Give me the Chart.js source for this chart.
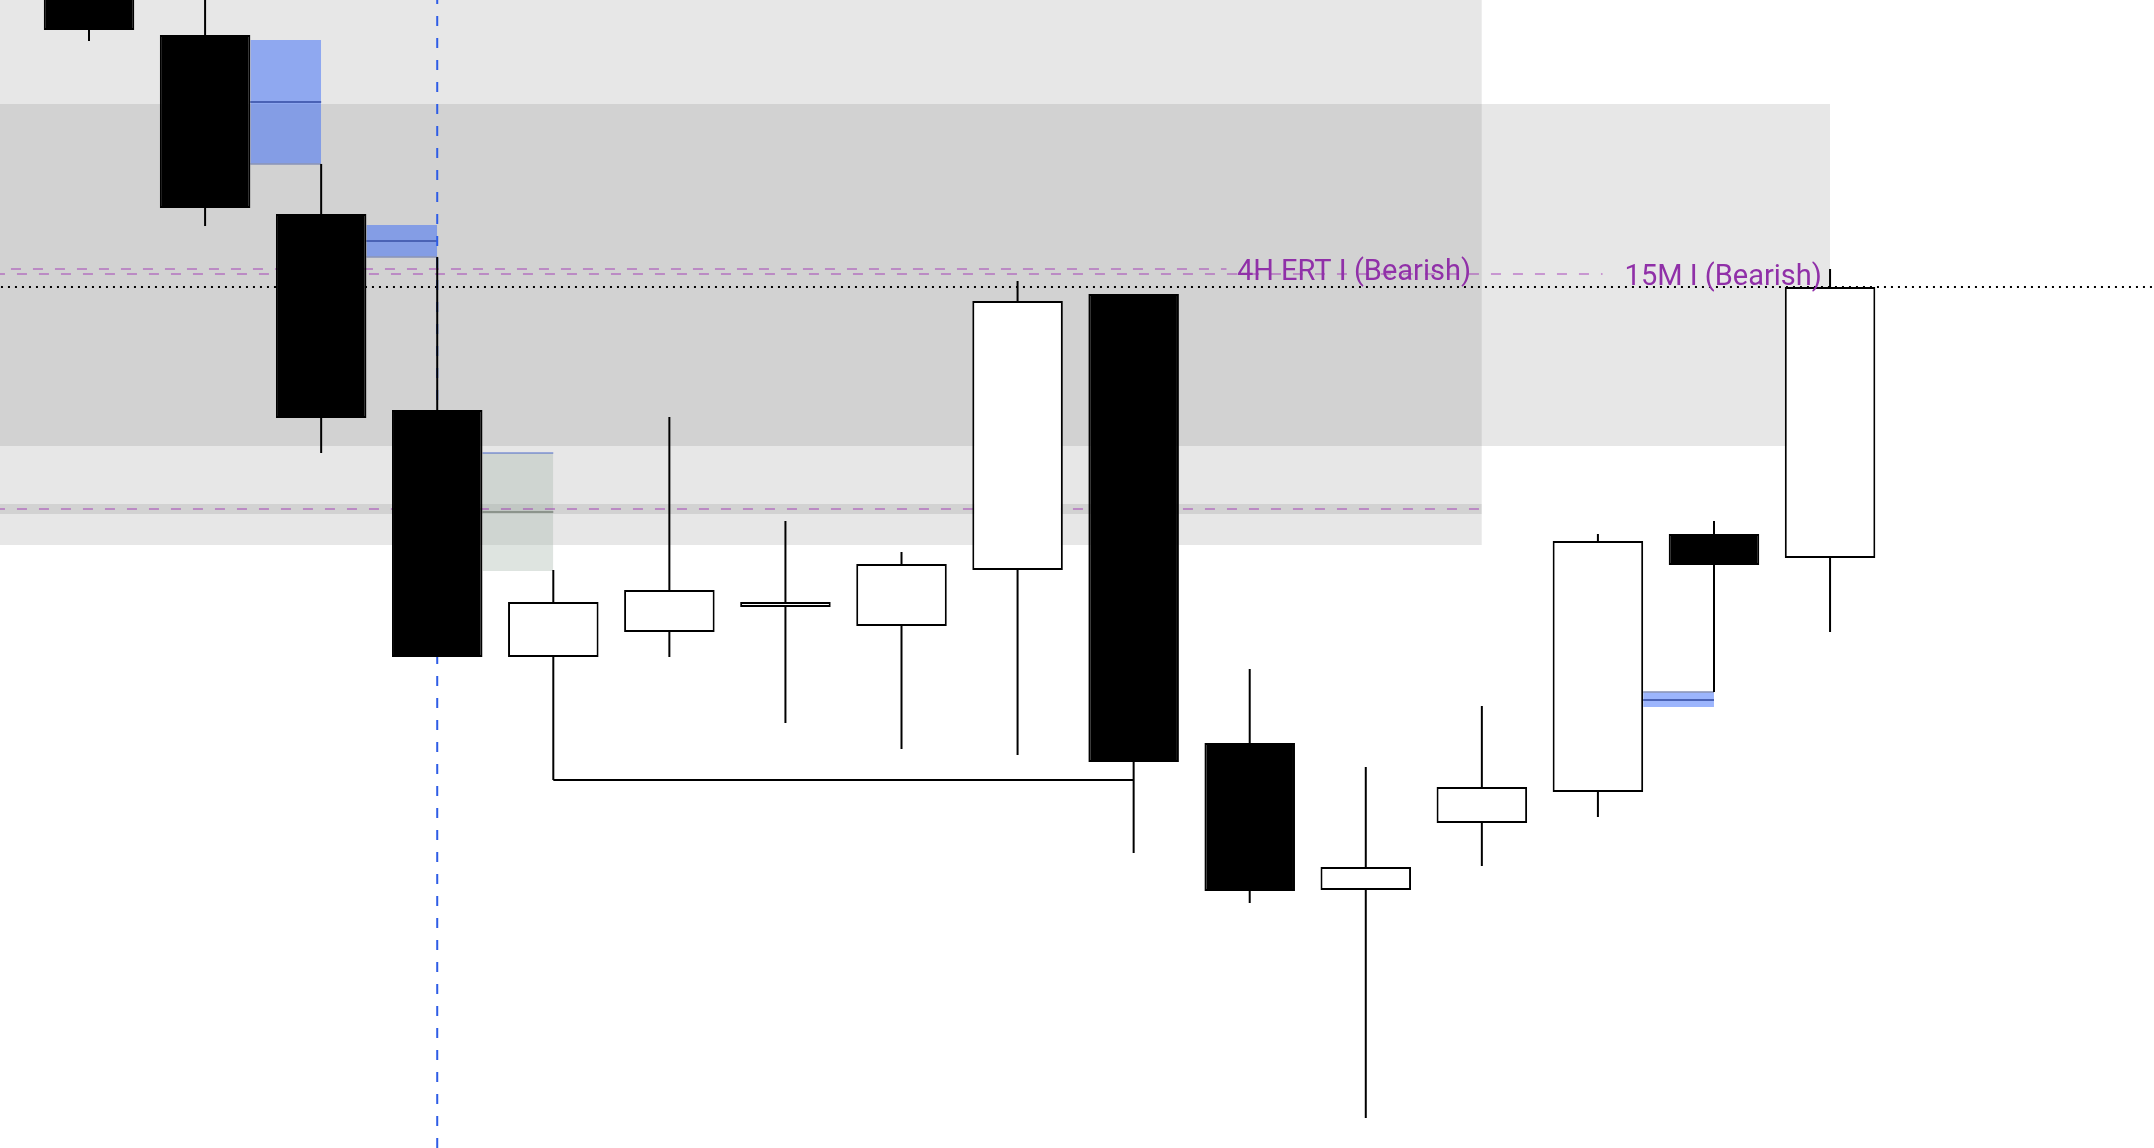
<!DOCTYPE html>
<html>
<head>
<meta charset="utf-8">
<title>Candles</title>
<script src="https://cdn.jsdelivr.net/npm/chart.js@4.4.1/dist/chart.umd.min.js"></script>
<style>
  html, body { margin: 0; padding: 0; background: #fff; overflow: hidden; }
  #wrap { width: 2154px; height: 1148px; position: relative; }
</style>
</head>
<body>
<div id="wrap"><canvas id="chart"></canvas></div>
<script>
// candles, index 0..15 (left to right)
const opens  = [2406.0, 2396.5, 2378.6, 2359.0, 2334.3, 2336.8, 2339.3, 2337.4, 2343.0, 2370.6, 2325.7, 2311.0, 2317.7, 2320.8, 2346.6, 2344.2];
const highs  = [2408.0, 2402.0, 2383.6, 2374.3, 2343.0, 2358.3, 2347.9, 2344.8, 2371.9, 2370.6, 2333.1, 2323.3, 2329.4, 2346.6, 2347.9, 2373.1];
const lows   = [2395.9, 2377.4, 2354.7, 2334.3, 2322.0, 2334.3, 2327.7, 2325.1, 2324.5, 2314.7, 2309.7, 2288.2, 2313.4, 2318.3, 2330.8, 2336.8];
const closes = [2397.0, 2379.2, 2358.2, 2334.3, 2339.8, 2341.0, 2339.8, 2343.6, 2369.9, 2323.8, 2310.9, 2313.3, 2321.3, 2345.9, 2343.5, 2371.3];

// grey zones (start/end in candle index, price range)
const zoneFrom   = [-1, -1, -1];
const zoneTo     = [12, 15, 12];
const zoneTop    = [2405.0, 2389.6, 2349.6];
const zoneBottom = [2345.5, 2355.4, 2348.6];

// imbalance boxes
const fvgFrom   = [1.39, 2.39, 3.39, 13.39];
const fvgTo     = [2, 3, 4, 14];
const fvgTop    = [2396.0, 2377.5, 2354.7, 2330.8];
const fvgBottom = [2383.6, 2374.3, 2342.9, 2329.3];
const fvgMid    = [2389.8, 2375.9, 2348.8, 2330.0];

// levels
const levelPrice = [2373.1, 2372.6, 2349.1];
const levelEnd   = [9.8, 13.04, 12];
const labelText  = ['4H ERT I (Bearish)', '15M I (Bearish)'];
const labelStart = [9.89, 13.23];

const markerCandle = 3;      // vertical dashed line
const sweepFrom = 4, sweepTo = 9;

const PURPLE_LINE = 'rgba(156,39,176,0.42)';
const BLUE_FILL = 'rgba(36,90,250,0.45)';
const fvgStyle = [
  { fill: BLUE_FILL, mid: '#4a62b5', edge: 'bottom', edgeColor: 'rgba(140,150,185,0.8)' },
  { fill: BLUE_FILL, mid: '#4a62b5', edge: 'bottom', edgeColor: 'rgba(140,150,185,0.8)' },
  { fill: 'rgba(160,178,165,0.35)', mid: '#8c948c', edge: 'top', edgeColor: 'rgba(60,90,200,0.45)' },
  { fill: BLUE_FILL, mid: '#4a62b5', edge: 'top', edgeColor: 'rgba(140,150,185,0.8)' }
];

function box(x0, x1, top, bottom, color, order) {
  return {
    type: 'line',
    data: [{ x: x0, y: top }, { x: x1, y: top }],
    fill: { value: bottom },
    backgroundColor: color,
    borderWidth: 0,
    pointRadius: 0,
    order: order
  };
}

function line(points, color, width, dash, order, dashOffset) {
  return {
    type: 'line',
    data: points,
    borderColor: color,
    borderWidth: width,
    borderDash: dash || [],
    borderDashOffset: dashOffset || 0,
    pointRadius: 0,
    fill: false,
    order: order
  };
}

const datasets = [];

zoneFrom.forEach((x0, i) => {
  datasets.push(box(x0, zoneTo[i], zoneTop[i], zoneBottom[i], 'rgba(0,0,0,0.095)', 10));
});

fvgFrom.forEach((x0, i) => {
  const s = fvgStyle[i];
  datasets.push(box(x0, fvgTo[i], fvgTop[i], fvgBottom[i], s.fill, 9));
  datasets.push(line([{ x: x0, y: fvgMid[i] }, { x: fvgTo[i], y: fvgMid[i] }], s.mid, 2, null, 8));
  const ey = s.edge === 'top' ? fvgTop[i] : fvgBottom[i];
  datasets.push(line([{ x: x0, y: ey }, { x: fvgTo[i], y: ey }], s.edgeColor, 2, null, 8));
});

levelPrice.forEach((p, i) => {
  datasets.push(line([{ x: -1, y: p }, { x: levelEnd[i], y: p }], PURPLE_LINE, 2, [10, 12], 7, i === 0 ? 6 : 0));
});

// last price
datasets.push(line([{ x: -1, y: closes[closes.length - 1] }, { x: 18, y: closes[closes.length - 1] }], '#000', 2, [2, 5], 7));

// sweep line from candle 4 low
datasets.push(line([{ x: sweepFrom, y: lows[sweepFrom] }, { x: sweepTo, y: lows[sweepFrom] }], '#000', 2, null, 7));

// vertical marker
datasets.push(line([{ x: markerCandle, y: 2400 }, { x: markerCandle, y: 2285.2 }], '#2e5ce6', 2, [10, 12], 6, 6));

// wicks
datasets.push({
  type: 'bar',
  data: lows.map((l, i) => ({ x: i, y: [l, highs[i]] })),
  backgroundColor: '#000',
  borderWidth: 0,
  barThickness: 2,
  inflateAmount: 0,
  grouped: false,
  order: 2
});

// bodies
datasets.push({
  type: 'bar',
  data: opens.map((o, i) => ({ x: i, y: [o, closes[i]] })),
  backgroundColor: opens.map((o, i) => closes[i] >= o ? '#fff' : '#000'),
  borderColor: '#000',
  borderWidth: 2,
  borderSkipped: false,
  inflateAmount: 0,
  grouped: false,
  barPercentage: 0.78,
  categoryPercentage: 1,
  order: 1
});

const levelLabels = {
  id: 'levelLabels',
  afterDatasetsDraw(chart) {
    const { ctx, scales: { x, y } } = chart;
    ctx.save();
    ctx.font = '29px Roboto';
    ctx.fillStyle = '#9030a8';
    ctx.textBaseline = 'alphabetic';
    labelText.forEach((t, i) => {
      ctx.fillText(t, x.getPixelForValue(labelStart[i]), y.getPixelForValue(levelPrice[i]) + 11);
    });
    ctx.restore();
  }
};

new Chart(document.getElementById('chart'), {
  type: 'bar',
  data: { datasets: datasets },
  options: {
    responsive: true,
    maintainAspectRatio: false,
    animation: false,
    layout: { padding: 0 },
    plugins: {
      legend: { display: false },
      tooltip: { enabled: false }
    },
    scales: {
      x: {
        type: 'linear',
        display: false,
        offset: false,
        min: -0.767,
        max: 17.791,
        ticks: { stepSize: 1, includeBounds: false },
        grid: { display: false }
      },
      y: {
        type: 'linear',
        display: false,
        beginAtZero: false,
        min: 2285.2,
        max: 2400,
        grid: { display: false }
      }
    }
  },
  plugins: [levelLabels]
});
</script>
</body>
</html>
